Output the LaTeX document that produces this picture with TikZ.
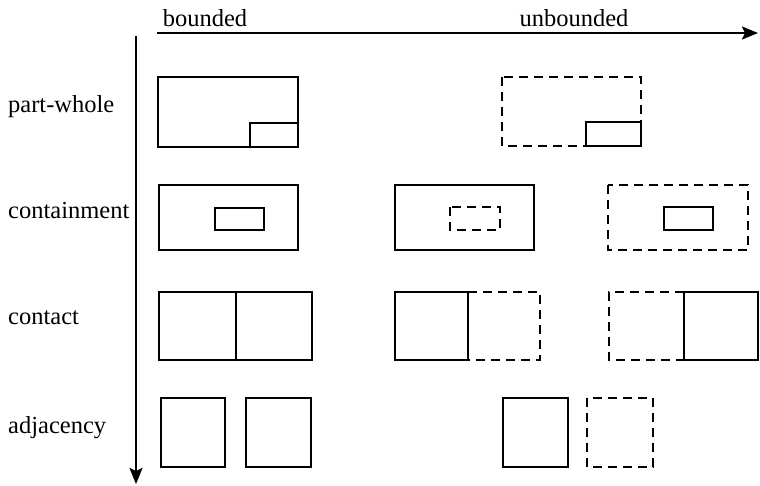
\documentclass[tikz,border=0pt]{standalone}
\usepackage{fontspec}
\setmainfont{Liberation Serif}
\usetikzlibrary{arrows.meta}
\begin{document}
\begin{tikzpicture}[x=1pt,y=-1pt,
  lab/.style={font=\fontsize{24.5}{29}\selectfont, inner sep=0pt},
  solidbox/.style={draw, line width=2.8pt},
  dashbox/.style={draw, line width=2.8pt, dash pattern=on 9pt off 6pt},
  axis/.style={line width=2.2pt, -{Stealth[length=16pt,width=13pt,inset=3pt]}}
]
\useasboundingbox (0,0) rectangle (760,485);

% axes
\coordinate (hx0) at (157,33);
\coordinate (hx1) at (758,33);
\coordinate (vy0) at (136,36);
\coordinate (vy1) at (136,484);
\draw[axis] (hx0) -- (hx1);
\draw[axis] (vy0) -- (vy1);

% column headings
\node[lab, anchor=base] (hb) at (205,26) {bounded};
\node[lab, anchor=base] (hu) at (574,26) {unbounded};

% row headings
\node[lab, anchor=base west] (rpw) at (8,112) {part-whole};
\node[lab, anchor=base west] (rcn) at (8,218) {containment};
\node[lab, anchor=base west] (rct) at (8,324) {contact};
\node[lab, anchor=base west] (rad) at (8,433) {adjacency};

% part-whole
\draw[solidbox] (158,77) rectangle (298,147);
\draw[solidbox] (250,123) rectangle (298,147);
\draw[dashbox] (502,77) rectangle (641,146);
\draw[solidbox] (586,122) rectangle (641,146);

% containment
\draw[solidbox] (159,185) rectangle (298,250);
\draw[solidbox] (215,208) rectangle (264,230);
\draw[solidbox] (395,185) rectangle (534,250);
\draw[dashbox] (450,207) rectangle (500,230);
\draw[dashbox] (608,185) rectangle (748,250);
\draw[solidbox] (664,207) rectangle (713,230);

% contact
\draw[solidbox] (159,292) rectangle (236,360);
\draw[solidbox] (236,292) rectangle (312,360);
\draw[dashbox] (468,292) -- (540,292) -- (540,360) -- (468,360);
\draw[solidbox] (395,292) rectangle (468,360);
\draw[dashbox] (684,292) -- (609,292) -- (609,360) -- (684,360);
\draw[solidbox] (684,292) rectangle (758,360);

% adjacency
\draw[solidbox] (161,398) rectangle (225,467);
\draw[solidbox] (246,398) rectangle (311,467);
\draw[solidbox] (503,398) rectangle (568,467);
\draw[dashbox] (587,398) rectangle (653,467);
\end{tikzpicture}
\end{document}
